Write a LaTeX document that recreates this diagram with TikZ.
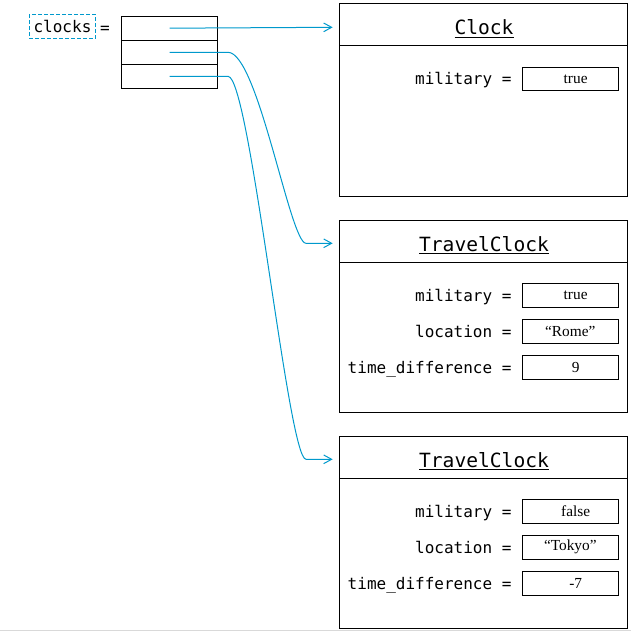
\documentclass[tikz,border=0pt]{standalone}
\usepackage{fontspec}
\usetikzlibrary{arrows.meta}
\newfontfamily\codefont{DejaVu Sans Mono}
\newfontfamily\valuefont{Liberation Serif}
\definecolor{refblue}{RGB}{0,153,204}
\tikzset{every picture/.style={line width=0.75pt}}
\tikzset{
  cell/.style={draw, minimum width=72pt, minimum height=18pt, inner sep=0pt},
  valbox/.style={draw, minimum width=72pt, minimum height=17.6pt, inner sep=0pt, font=\valuefont\fontsize{11.5}{13}\selectfont},
  shortval/.style={valbox, execute at begin node={\hspace*{8pt}}},
  field/.style={anchor=base east, inner sep=0pt, font=\codefont\fontsize{12}{14}\selectfont},
  classname/.style={anchor=base, inner sep=0pt, font=\codefont\fontsize{14.7}{17}\selectfont},
  ref/.style={draw=refblue, -{Straight Barb[length=6pt,width=6.5pt]}},
}
\begin{document}
\begin{tikzpicture}[x=0.75pt,y=0.75pt,yscale=-1,xscale=1]
\useasboundingbox (0,0) rectangle (631,631);

% Variable
\node[draw=refblue, dash pattern=on 3pt off 1.5pt, minimum width=49.8pt, minimum height=17.7pt, inner sep=0pt, font=\codefont\fontsize{12}{14}\selectfont] (clocks) at (62.5,26.5) {clocks};
\node[inner sep=0pt, font=\codefont\fontsize{12}{14}\selectfont, anchor=base] (clockseq) at (105,33.3) {=};

% Array cells
\node[cell] (cell1) at (169.5,28.2) {};
\node[cell] (cell2) at (169.5,52.3) {};
\node[cell] (cell3) at (169.5,76.3) {};

% Object: Clock
\draw   (339,4) rectangle (627,196) ;
\draw   (339,45.7) -- (628.3,45.7) ;
\node[classname] (clockname) at (484,35) {\underline{Clock}};
\node[field] (clockmil) at (512,85) {military =};
\node[shortval] (clockmilval) at (570.3,79.2) {true};

% Object: TravelClock (Rome)
\draw   (339,220) rectangle (627,412) ;
\draw   (339,262.3) -- (628.3,262.3) ;
\node[classname] (romename) at (484,251.3) {\underline{TravelClock}};
\node[field] (romemil) at (512,301.3) {military =};
\node[shortval] (romemilval) at (570.3,295.3) {true};
\node[field] (romeloc) at (512,337.3) {location =};
\node[valbox] (romelocval) at (570.3,331.3) {“Rome”};
\node[field] (romediff) at (512,373.3) {time\_difference =};
\node[shortval] (romediffval) at (570.3,367.3) {9};

% Object: TravelClock (Tokyo)
\draw   (339,436) rectangle (627,628) ;
\draw   (339,478.3) -- (628.3,478.3) ;
\node[classname] (tokyoname) at (484,467.3) {\underline{TravelClock}};
\node[field] (tokyomil) at (512,517.3) {military =};
\node[shortval] (tokyomilval) at (570.3,511.3) {false};
\node[field] (tokyoloc) at (512,553.3) {location =};
\node[valbox] (tokyolocval) at (570.3,547.3) {“Tokyo”};
\node[field] (tokyodiff) at (512,589.3) {time\_difference =};
\node[shortval] (tokyodiffval) at (570.3,583.3) {-7};

% Arrow targets
\coordinate (clockin) at (332.7,27.3);
\coordinate (romein) at (332.7,243.3);
\coordinate (tokyoin) at (332.7,459.3);

% References
\draw[ref] (cell1.center) -- (clockin);
\draw[ref] (cell2.center) -- (228,52.3) .. controls (258,52.3) and (290,243.3) .. (306,243.3) -- (romein);
\draw[ref] (cell3.center) -- (228,76.3) .. controls (250,76.3) and (288,459.3) .. (306,459.3) -- (tokyoin);

% Bottom edge
\draw[black!15] (0,630) -- (631,630);

\end{tikzpicture}
\end{document}
